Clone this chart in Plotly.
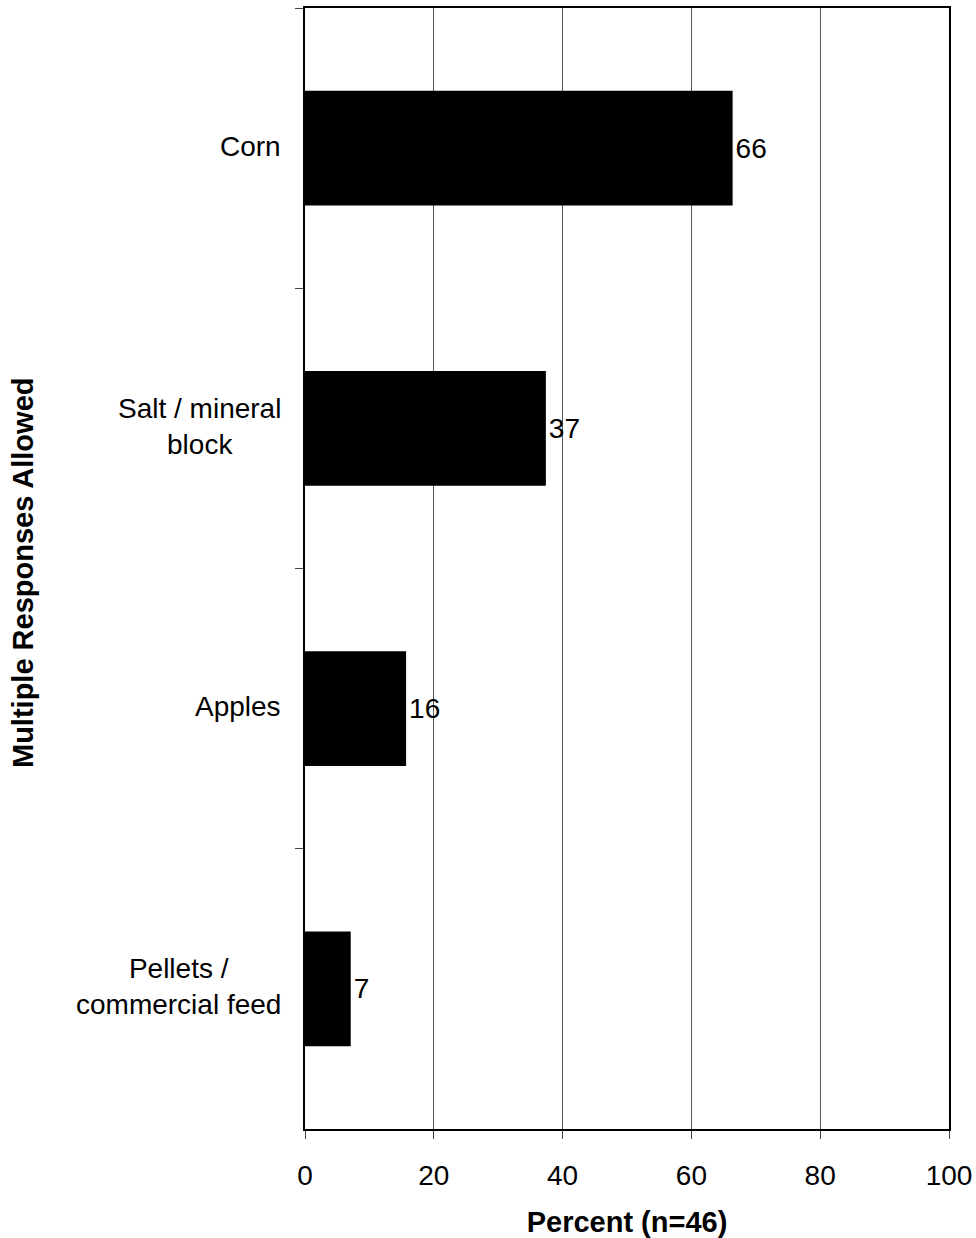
import plotly.graph_objects as go

# data
foods = ["Corn", "Salt / mineral<br>block", "Apples", "Pellets /<br>commercial feed"]
pct = [66.4, 37.4, 15.7, 7.1]
labels = ["66", "37", "16", "7"]

FONT = "Liberation Sans, Arial, sans-serif"

fig = go.Figure()
fig.add_trace(go.Bar(
    x=pct, y=foods, orientation="h",
    marker=dict(color="black", line=dict(width=0)),
    width=0.41,
    text=labels, textposition="outside",
    textfont=dict(family=FONT, size=28, color="black"),
    cliponaxis=False,
))

# category labels, centred lines like the original
for f in foods:
    fig.add_annotation(
        x=0, xref="paper", y=f, yref="y",
        xanchor="right", xshift=-22, yshift=2, align="center",
        text=f, showarrow=False,
        font=dict(family=FONT, size=28, color="black"),
    )

fig.add_annotation(
    x=-0.4394, xref="paper", y=0.496, yref="paper",
    xanchor="center", yanchor="middle", xshift=1,
    text="<b>Multiple Responses Allowed</b>", textangle=-90,
    showarrow=False, font=dict(family=FONT, size=29, color="black"),
)

fig.update_layout(
    width=976, height=1238,
    margin=dict(l=305, r=27, t=8, b=109),
    plot_bgcolor="white", paper_bgcolor="white",
    showlegend=False,
    font=dict(family=FONT, color="black"),
)
fig.update_xaxes(
    range=[0, 100], tickvals=[0, 20, 40, 60, 80, 100],
    ticks="outside", ticklen=8, tickcolor="#444", ticklabelstandoff=12,
    tickfont=dict(size=28), automargin=False,
    showgrid=True, gridcolor="#555", gridwidth=1,
    showline=True, linecolor="black", linewidth=2, mirror=True,
    zeroline=False,
    title=dict(text="<b>Percent (n=46)</b>", font=dict(size=29), standoff=26),
)
fig.update_yaxes(
    autorange="reversed", automargin=False,
    showticklabels=False,
    ticks="outside", ticklen=8, tickcolor="#444", tickson="boundaries",
    showgrid=False,
    showline=True, linecolor="black", linewidth=2, mirror=True,
    title=None,
)

# drop the page's default body margin so the figure sits at the corner
fig.write_html(
    "out.html",
    config={"displayModeBar": False, "responsive": False},
    post_script="document.body.style.margin='0';"
                "document.documentElement.style.overflow='hidden';",
)
